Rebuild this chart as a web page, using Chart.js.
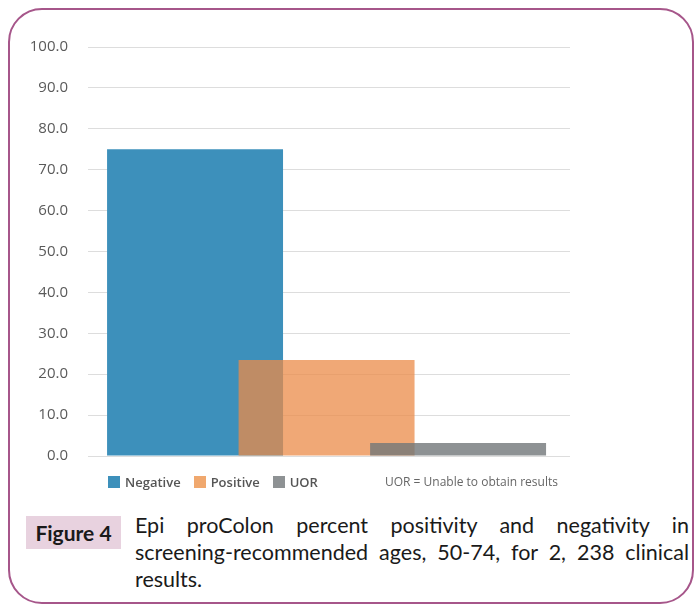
<!DOCTYPE html>
<html>
<head>
<meta charset="utf-8">
<script src="https://cdn.jsdelivr.net/npm/chart.js@4"></script>
<style>
    html, body { margin: 0; padding: 0; background: #fff; }
    body { width: 699px; height: 610px; position: relative; overflow: hidden; font-family: "Open Sans", sans-serif; }
    .frame {
        position: absolute; left: 8px; top: 8px; width: 686px; height: 596px;
        border: 2px solid #a6568a; border-radius: 34px; box-sizing: border-box;
    }
    #chartBox { position: absolute; left: 20px; top: 18px; width: 560px; height: 467px; }
    .legend { position: absolute; top: 473px; left: 108px; font-size: 13px; color: #555; white-space: nowrap; }
    .legend span.item { display: inline-block; margin-right: 13px; font-weight: 600; }
    .legend i { display: inline-block; width: 12px; height: 12px; vertical-align: -1px; margin-right: 5px; }
    .legend .note { position: absolute; left: 277px; top: 0; font-size: 12px; color: #666; }
    .figlabel {
        position: absolute; left: 26px; top: 516px; width: 95px; height: 33px;
        background: #e8d2df; font-family: Lato, sans-serif; font-weight: bold; font-size: 21px;
        color: #1a1a1a; text-align: center; line-height: 33px;
    }
    .caption {
        position: absolute; left: 135px; top: 512px; width: 554px;
        font-family: Lato, sans-serif; font-size: 21.5px; line-height: 27px; color: #1a1a1a;
    }
    .caption div { text-align: justify; text-align-last: justify; white-space: nowrap; }
    .caption div.last { text-align-last: left; }
</style>
</head>
<body>
<div class="frame"></div>
<div id="chartBox"><canvas id="chart"></canvas></div>
<div class="legend" id="legend"></div>
<div class="figlabel">Figure 4</div>
<div class="caption">
    <div>Epi proColon percent positivity and negativity in</div>
    <div>screening-recommended ages, 50-74, for 2, 238 clinical</div>
    <div class="last">results.</div>
</div>
<script>
// Series (percent of results)
const seriesNames = ['Negative', 'Positive', 'UOR'];
const seriesValues = [75.0, 23.5, 3.2];
const yTicks = [0, 10, 20, 30, 40, 50, 60, 70, 80, 90, 100];
const legendNote = 'UOR = Unable to obtain results';

const fillColors = ['rgb(61, 144, 187)', 'rgba(235, 139, 72, 0.75)', 'rgba(114, 119, 121, 0.8)'];
const swatchColors = ['#3d90bb', '#f0a86e', '#8e9294'];

// one dataset, bars wider than their slot so each one overlaps the next
// (later bars are painted over earlier ones)
const points = seriesValues.map((v, i) => ({ x: i, y: v }));

new Chart(document.getElementById('chart'), {
    type: 'bar',
    data: {
        datasets: [{
            label: 'Results',
            data: points,
            backgroundColor: fillColors,
            borderWidth: 0,
            categoryPercentage: 1,
            barPercentage: 1.338,
        }],
    },
    options: {
        responsive: true,
        maintainAspectRatio: false,
        animation: false,
        layout: { padding: { top: 4, bottom: 0, right: 10, left: 0 } },
        plugins: { legend: { display: false }, tooltip: { enabled: false } },
        scales: {
            x: {
                type: 'linear', display: false, offset: false, min: -0.814, max: 2.851,
                // ticks only at the bar positions so the bar width follows their spacing
                afterBuildTicks: axis => { axis.ticks = points.map(p => ({ value: p.x })); },
            },
            y: {
                min: 0,
                max: 100,
                afterFit: axis => { axis.width = 68; },
                afterBuildTicks: axis => { axis.ticks = yTicks.map(v => ({ value: v })); },
                border: { display: false },
                grid: { color: '#dddddd', lineWidth: 1, drawTicks: false },
                ticks: {
                    padding: 20,
                    color: '#5a5a5a',
                    font: { family: 'Open Sans', size: 15 },
                    callback: v => v.toFixed(1),
                },
            },
        },
    },
});

// legend built from the series arrays
const legend = document.getElementById('legend');
seriesNames.forEach((name, i) => {
    const item = document.createElement('span');
    item.className = 'item';
    item.innerHTML = '<i style="background:' + swatchColors[i] + '"></i>' + name;
    legend.appendChild(item);
});
const note = document.createElement('span');
note.className = 'note';
note.textContent = legendNote;
legend.appendChild(note);
</script>
</body>
</html>
